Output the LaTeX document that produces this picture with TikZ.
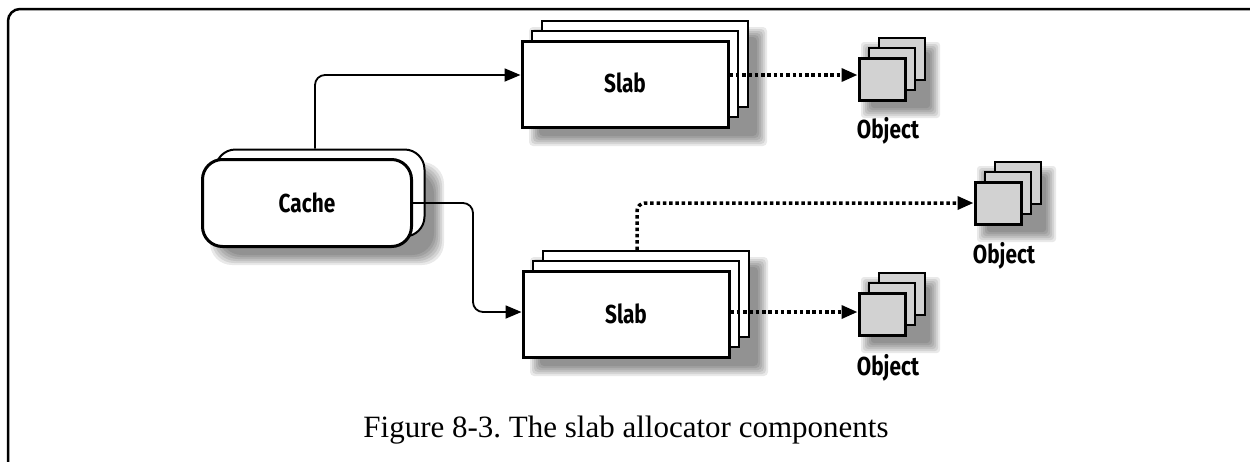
\documentclass[tikz,border=0pt]{standalone}
\usepackage{fontspec}
\newfontfamily\lblfont[FakeStretch=0.8]{Fira Sans}
\newfontfamily\capfont{Liberation Serif}
\usetikzlibrary{arrows.meta,calc}
\newcommand\softshadow[5]{%
  \foreach \k in {0,...,5}{%
    \fill[black,opacity=0.085,rounded corners=#5] ({#1-6+\k*2},{#2-6+\k*2}) rectangle ({#3+6-\k*2},{#4+6-\k*2});}}
\frenchspacing
\begin{document}
\begin{tikzpicture}[x=1pt,y=-1pt,
  lbl/.style={font=\lblfont\bfseries\fontsize{26}{26}\selectfont},
  slabback/.style={draw,fill=white,line width=2pt,minimum width=206pt,minimum height=86pt,inner sep=0pt},
  slabfront/.style={slabback,line width=3pt,lbl},
  cacheback/.style={draw,fill=white,line width=2pt,rounded corners=20pt,minimum width=209pt,minimum height=87pt,inner sep=0pt},
  cachefront/.style={cacheback,line width=3pt,lbl},
  objback/.style={draw,fill=gray!35,line width=2pt,minimum width=46pt,minimum height=42pt,inner sep=0pt},
  objfront/.style={objback,line width=3pt},
  conn/.style={line width=1.8pt,rounded corners=10pt,-{Triangle[length=16pt,width=13pt]}},
  dots/.style={line width=3.5pt,dash pattern=on 3.5pt off 2.8pt,rounded corners=8pt,-{Triangle[length=16pt,width=13pt]}},
  frame/.style={line width=2.5pt,rounded corners=12pt}]
\useasboundingbox (0,0) rectangle (1250,461);
\fill[white] (0,0) rectangle (1250,461);
% frame
\draw[frame] (8,475) -- (8,9) -- (1265,9);
% shadows
\softshadow{216}{168}{438}{259}{22pt}
\softshadow{535}{33}{761}{140}{4pt}
\softshadow{536}{263}{762}{370}{4pt}
\softshadow{867}{48}{934}{112}{3pt}
\softshadow{983}{172}{1050}{236}{3pt}
\softshadow{867}{283}{934}{347}{3pt}
% cache
\node[cacheback] (cacheB) at (320,193) {};
\node[cachefront] (cacheF) at (307,203) {Cache};
% top slab stack
\node[slabback] (slabA3) at (645,64) {};
\node[slabback] (slabA2) at (635,74) {};
\node[slabfront] (slabA) at (625,84) {\raisebox{3pt}{Slab}};
% bottom slab stack
\node[slabback] (slabB3) at (646,294) {};
\node[slabback] (slabB2) at (636,304) {};
\node[slabfront] (slabB) at (626,314) {Slab};
% objects
\node[objback] (objA3) at (902,59) {};
\node[objback] (objA2) at (892,69) {};
\node[objfront] (objA) at (882,79) {};
\node[lbl] (objAl) at (888,131) {Object};
\node[objback] (objB3) at (1018,183) {};
\node[objback] (objB2) at (1008,193) {};
\node[objfront] (objB) at (998,203) {};
\node[lbl] (objBl) at (1004,256) {Object};
\node[objback] (objC3) at (902,294) {};
\node[objback] (objC2) at (892,304) {};
\node[objfront] (objC) at (882,314) {};
\node[lbl] (objCl) at (888,368) {Object};
% connectors
\coordinate (inA) at ([yshift=9pt]slabA.west);
\draw[conn] ([xshift=-5pt]cacheB.north) |- (inA);
\draw[conn] (cacheF.east) -- ++(60,0) |- ([yshift=2pt]slabB.west);
\coordinate (outA) at ([yshift=9pt]slabA.east);
\draw[dots] (outA) -- (outA -| objA.west);
\coordinate (outB) at ([xshift=-9pt]slabB3.north);
\draw[dots] (outB) |- (objB.west);
\coordinate (outC) at ([yshift=2pt]slabB.east);
\draw[dots] (outC) -- (outC -| objC.west);
% caption
\node[font=\capfont\fontsize{31}{31}\selectfont,anchor=base] (cap) at (626,437) {Figure 8-3. The slab allocator components};
\end{tikzpicture}
\end{document}
